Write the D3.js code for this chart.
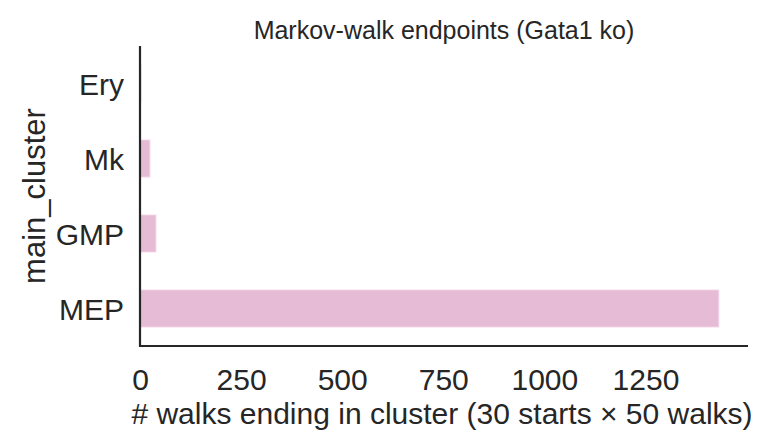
<!DOCTYPE html>
<html>
<head>
<meta charset="utf-8">
<script src="https://cdn.jsdelivr.net/npm/d3@7"></script>
<style>
  body { margin: 0; background: #fff; }
  text { font-family: "Liberation Sans", Arial, sans-serif; fill: #262626; }
</style>
</head>
<body>
<div id="chart"></div>
<script>
// values (30 starts x 50 walks = 1500 total)
const categories = ["Ery", "Mk", "GMP", "MEP"];
const walkCounts = [3, 25, 40, 1432];
const xTicks = [0, 250, 500, 750, 1000, 1250];

const W = 763, H = 444;
const plot = { left: 140, right: 748, top: 46, bottom: 346 };

const svg = d3.select("#chart")
    .append("svg")
    .attr("width", W)
    .attr("height", H);

// matplotlib-like 5% margin past the longest bar
const xScale = d3.scaleLinear()
    .domain([0, d3.max(walkCounts) * 1.05])
    .range([plot.left, plot.right]);

const yScale = d3.scaleBand()
    .domain(categories)
    .range([plot.top, plot.bottom])
    .paddingInner(0.5)
    .paddingOuter(0.25);

// bars
svg.selectAll(".bar")
    .data(categories.map((c, i) => ({ cat: c, n: walkCounts[i] })))
    .enter().append("rect")
    .attr("class", "bar")
    .attr("x", xScale(0))
    .attr("y", d => yScale(d.cat))
    .attr("width", d => xScale(d.n) - xScale(0))
    .attr("height", yScale.bandwidth())
    .attr("fill", "#e6bbd5")
    .attr("stroke", "#fbeaf3")
    .attr("stroke-width", 1);

// x axis, no tick marks (seaborn white style)
const xAxis = svg.append("g")
    .attr("transform", `translate(0, ${plot.bottom})`)
    .call(d3.axisBottom(xScale).tickValues(xTicks).tickFormat(d3.format("d"))
        .tickSize(0).tickPadding(0));
xAxis.select(".domain").remove();
xAxis.selectAll("text")
    .attr("y", 44)
    .attr("dy", null)
    .style("font-size", "30px")
    .style("fill", "#262626");

// y axis
const yAxis = svg.append("g")
    .attr("transform", `translate(${plot.left}, 0)`)
    .call(d3.axisLeft(yScale).tickSize(0).tickPadding(16));
yAxis.select(".domain").remove();
yAxis.selectAll("text")
    .attr("dy", "0.38em")
    .style("font-size", "30px")
    .style("fill", "#262626");

// despined: only left and bottom
svg.append("line")
    .attr("x1", plot.left).attr("x2", plot.left)
    .attr("y1", plot.top).attr("y2", plot.bottom + 1)
    .attr("stroke", "#262626").attr("stroke-width", 2.2);
svg.append("line")
    .attr("x1", plot.left - 1).attr("x2", plot.right)
    .attr("y1", plot.bottom).attr("y2", plot.bottom)
    .attr("stroke", "#262626").attr("stroke-width", 2.2);

// title and labels
svg.append("text")
    .attr("x", (plot.left + plot.right) / 2)
    .attr("y", 39)
    .attr("text-anchor", "middle")
    .style("font-size", "25px")
    .text("Markov-walk endpoints (Gata1 ko)");

svg.append("text")
    .attr("x", (plot.left + plot.right) / 2 - 2)
    .attr("y", 424)
    .attr("text-anchor", "middle")
    .style("font-size", "30px")
    .text("# walks ending in cluster (30 starts × 50 walks)");

svg.append("text")
    .attr("transform", `translate(45, ${(plot.top + plot.bottom) / 2}) rotate(-90)`)
    .attr("text-anchor", "middle")
    .style("font-size", "31px")
    .text("main_cluster");
</script>
</body>
</html>
